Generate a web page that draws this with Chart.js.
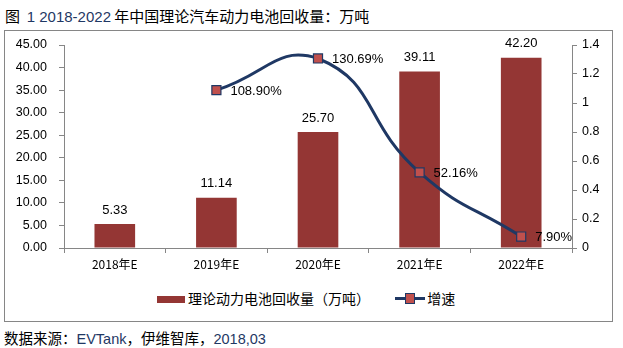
<!DOCTYPE html>
<html>
<head>
<meta charset="utf-8">
<script src="https://cdn.jsdelivr.net/npm/chart.js@4.4.1/dist/chart.umd.min.js"></script>
<style>
  body { margin: 0; background: #fff; width: 623px; height: 348px; overflow: hidden; position: relative;
         font-family: "Noto Sans CJK SC", sans-serif; }
  #title { position: absolute; left: 5px; top: 5px; font-size: 15px; color: #000; white-space: nowrap; }
  #box { position: absolute; left: 4px; top: 30px; width: 607px; height: 290px; border: 1px solid #868686; }
  #c { position: absolute; left: 0; top: 0; }
  #legend { position: absolute; top: 288px; left: 157px; font-size: 14px; white-space: nowrap; }
  #source { position: absolute; left: 4px; top: 327px; font-size: 14.5px; white-space: nowrap; }
  .navy { color: #1F3864; font-family: "Liberation Sans", sans-serif; }
</style>
</head>
<body>
<div id="title">图&nbsp; <span class="navy">1 2018-2022</span> 年中国理论汽车动力电池回收量：万吨</div>
<div id="box"></div>
<div id="legend">
  <span style="display:inline-block;width:28px;height:7px;background:#943634;vertical-align:middle;margin-right:3px;position:relative;top:-1px"></span>理论动力电池回收量（万吨）
  <span style="display:inline-block;width:30px;height:12px;vertical-align:middle;margin-left:22px;margin-right:2px;position:relative;top:-1px">
    <span style="position:absolute;left:0;top:4px;width:30px;height:3px;background:#1F3864"></span>
    <span style="position:absolute;left:10px;top:0;width:8px;height:9px;background:#C0504D;border:1px solid #1F3864"></span>
  </span>增速
</div>
<div id="source">数据来源：<span class="navy">EVTank</span>，伊维智库，<span class="navy">2018,03</span></div>
<canvas id="c" width="623" height="348"></canvas>
<script>
const categories = ['2018年E', '2019年E', '2020年E', '2021年E', '2022年E'];
const recycleVolume = [5.33, 11.14, 25.70, 39.11, 42.20];
const growthRate = [null, 1.0890, 1.3069, 0.5216, 0.0790];
const growthLabels = [null, '108.90%', '130.69%', '52.16%', '7.90%'];

const axisColor = '#868686';

// draws the value labels next to bars and points
const valueLabels = {
  id: 'valueLabels',
  afterDatasetsDraw(chart) {
    const ctx = chart.ctx;
    ctx.save();
    ctx.fillStyle = '#000';
    ctx.font = '13px "Liberation Sans", sans-serif';
    ctx.textBaseline = 'middle';
    chart.getDatasetMeta(1).data.forEach((el, i) => {
      ctx.textAlign = 'center';
      ctx.fillText(recycleVolume[i].toFixed(2), el.x, el.y - 14);
    });
    chart.getDatasetMeta(0).data.forEach((el, i) => {
      if (growthLabels[i] == null) return;
      ctx.textAlign = 'left';
      ctx.fillText(growthLabels[i], el.x + 14, el.y + 1);
    });
    ctx.restore();
  }
};

new Chart(document.getElementById('c'), {
  data: {
    labels: categories,
    datasets: [
      {
        type: 'line',
        label: '增速',
        data: growthRate,
        yAxisID: 'y1',
        borderColor: '#1F3864',
        borderWidth: 3,
        tension: 0.5,
        pointStyle: 'rect',
        pointRadius: 6.4,
        pointBackgroundColor: '#C0504D',
        pointBorderColor: '#1F3864',
        pointBorderWidth: 1.2,
        order: 0
      },
      {
        type: 'bar',
        label: '理论动力电池回收量（万吨）',
        data: recycleVolume,
        yAxisID: 'y',
        backgroundColor: '#943634',
        barPercentage: 0.4,
        categoryPercentage: 1,
        order: 1
      }
    ]
  },
  options: {
    responsive: false,
    animation: false,
    layout: { padding: { top: 45, left: 0, right: 0, bottom: 0 } },
    plugins: { legend: { display: false }, tooltip: { enabled: false } },
    scales: {
      x: {
        grid: { display: true, drawOnChartArea: false, offset: true, tickLength: 5, color: axisColor },
        border: { color: axisColor },
        ticks: { color: '#000', font: { family: '"Noto Sans CJK SC"', size: 12 }, padding: 4 },
        afterFit(s) { s.height = 100; }
      },
      y: {
        position: 'left',
        min: 0, max: 45,
        ticks: { stepSize: 5, color: '#000', padding: 12, font: { family: '"Liberation Sans"', size: 12.5 },
                 callback: v => v.toFixed(2) },
        grid: { drawOnChartArea: false, tickLength: 5, color: axisColor },
        border: { color: axisColor },
        afterFit(s) { s.width = 64; }
      },
      y1: {
        position: 'right',
        min: 0, max: 1.4,
        ticks: { stepSize: 0.2, color: '#000', padding: 5, font: { family: '"Liberation Sans"', size: 12.5 },
                 callback: v => String(parseFloat(v.toFixed(1))) },
        grid: { drawOnChartArea: false, tickLength: 5, color: axisColor },
        border: { color: axisColor },
        afterFit(s) { s.width = 51; }
      }
    }
  },
  plugins: [valueLabels]
});
</script>
</body>
</html>
